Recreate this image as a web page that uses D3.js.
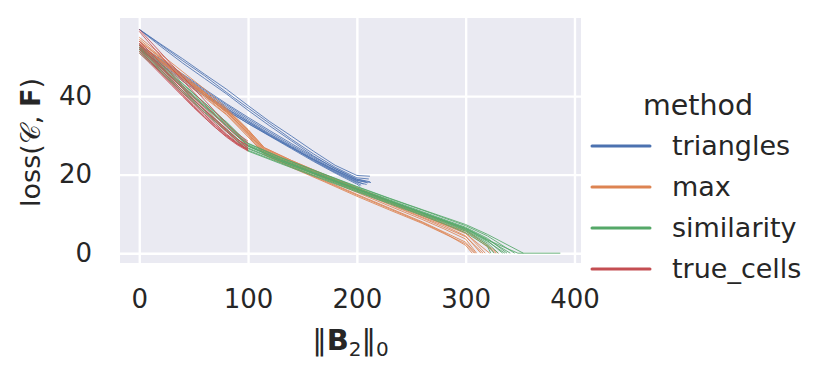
<!DOCTYPE html>
<html><head><meta charset="utf-8">
<script src="https://cdn.jsdelivr.net/npm/d3@7"></script>
<style>body{margin:0;background:#fff}svg{display:block}text{font-family:"DejaVu Sans",sans-serif;fill:#262626}</style>
</head><body><svg id="c" width="829" height="377"></svg>
<script>
// ---- data ----
const methods = ["triangles", "max", "similarity", "true_cells"];
const colors = ["#4c72b0", "#dd8452", "#55a868", "#c44e52"];
const xTicks = [0, 100, 200, 300, 400];
const yTicks = [0, 20, 40];

// triangles: y at grid x, plus last point
const triX = [0, 20, 40, 60, 80, 100, 120, 140, 160, 180, 200];
const triRuns = [
  [57.0, 53.2, 49.5, 45.6, 41.8, 37.6, 33.5, 29.8, 26.0, 22.4, 19.8],
  [57.0, 53.0, 49.0, 45.2, 41.0, 37.0, 33.0, 29.0, 25.3, 21.9, 19.2],
  [57.0, 52.6, 48.4, 44.5, 40.6, 36.4, 32.4, 28.6, 24.8, 21.5, 18.8],
  [53.0, 49.2, 45.3, 41.5, 37.8, 34.2, 30.8, 27.5, 24.3, 21.2, 18.6],
  [53.0, 49.0, 45.0, 41.2, 37.4, 33.8, 30.4, 27.2, 24.0, 21.0, 18.3],
  [53.0, 48.8, 44.7, 40.9, 37.0, 33.5, 30.2, 27.0, 23.6, 20.6, 17.9],
  [53.0, 49.4, 45.6, 41.8, 38.1, 34.6, 31.2, 27.9, 24.6, 21.6, 18.9],
  [53.0, 48.6, 44.4, 40.5, 36.6, 33.0, 29.8, 26.6, 23.4, 20.4, 17.6],
  [52.0, 48.2, 44.2, 40.4, 36.8, 33.4, 30.0, 26.8, 23.8, 20.8, 18.1],
  [52.0, 48.0, 43.8, 40.0, 36.3, 33.1, 29.9, 26.9, 23.9, 21.1, 18.5]
];
const triEndX = [212, 211, 208, 210, 206, 204, 212, 203, 209, 213];
const triEndY = [19.6, 18.9, 18.3, 17.9, 17.6, 17.3, 18.2, 17.0, 17.5, 18.0];

// max
const maxX = [0, 20, 40, 60, 80, 100, 115, 140, 170, 200, 230, 260, 280, 300];
const maxRuns = [
  [55.0, 50.6, 46.2, 41.8, 37.0, 31.5, 26.8, 23.6, 20.0, 16.6, 13.2, 9.8, 7.6, 5.2],
  [54.5, 50.0, 45.5, 41.0, 36.4, 31.0, 26.2, 23.0, 19.4, 16.0, 12.6, 9.2, 7.0, 4.4],
  [54.0, 49.6, 45.0, 40.5, 36.0, 30.6, 25.8, 22.6, 19.0, 15.5, 12.0, 8.6, 6.2, 3.6],
  [53.5, 49.2, 44.8, 40.4, 35.8, 30.2, 25.5, 22.2, 18.6, 15.0, 11.5, 8.0, 5.4, 2.8],
  [53.0, 48.8, 44.4, 40.0, 35.4, 30.0, 25.0, 21.8, 18.2, 14.5, 11.0, 7.6, 5.0, 2.4],
  [53.0, 49.0, 44.9, 40.8, 36.6, 31.2, 26.6, 23.4, 19.8, 16.4, 13.0, 9.6, 7.3, 5.0],
  [52.5, 48.5, 44.3, 40.2, 36.0, 30.8, 26.4, 23.2, 19.7, 16.3, 12.9, 9.5, 7.4, 5.6],
  [52.0, 48.0, 43.8, 39.6, 35.3, 29.6, 25.3, 22.0, 18.4, 14.8, 11.3, 7.8, 5.2, 2.0],
  [53.0, 48.9, 44.7, 40.5, 36.2, 30.4, 26.0, 22.8, 19.2, 15.8, 12.4, 9.0, 6.6, 4.2],
  [54.0, 49.8, 45.4, 41.0, 36.6, 31.4, 26.9, 23.6, 20.1, 16.7, 13.4, 10.1, 8.0, 6.0]
];
const maxEndX = [318, 314, 310, 309, 308, 322, 328, 306, 316, 330];

// similarity
const simX = [0, 20, 40, 60, 80, 100, 130, 160, 200, 230, 260, 280, 300, 320];
const simRuns = [
  [52.5, 47.6, 42.6, 37.8, 33.0, 27.6, 24.0, 20.8, 16.6, 13.6, 10.6, 8.6, 6.6, 3.8],
  [52.0, 47.0, 42.0, 37.2, 32.4, 27.2, 23.7, 20.5, 16.3, 13.3, 10.3, 8.3, 6.2, 3.2],
  [52.0, 46.6, 41.4, 36.4, 31.6, 26.6, 23.3, 20.2, 16.0, 13.0, 10.0, 8.0, 5.8, 2.6],
  [51.5, 46.2, 41.0, 36.0, 31.2, 26.2, 23.0, 19.9, 15.8, 12.8, 9.8, 7.8, 5.6, 2.2],
  [51.0, 46.0, 40.8, 35.8, 31.0, 26.0, 22.8, 19.7, 15.6, 12.6, 9.6, 7.5, 5.2, 1.8],
  [52.5, 47.8, 43.0, 38.2, 33.4, 27.9, 24.3, 21.1, 16.9, 13.9, 11.0, 9.0, 7.0, 4.4],
  [53.0, 48.2, 43.2, 38.3, 33.4, 28.0, 24.4, 21.2, 17.0, 14.0, 11.1, 9.2, 7.3, 4.8],
  [52.0, 47.2, 42.2, 37.4, 32.6, 27.4, 23.8, 20.6, 16.4, 13.4, 10.4, 8.4, 6.4, 3.5],
  [51.5, 46.5, 41.4, 36.5, 31.7, 26.8, 23.4, 20.3, 16.2, 13.2, 10.2, 8.2, 6.0, 3.0],
  [52.5, 47.4, 42.4, 37.5, 32.7, 27.3, 23.6, 20.4, 16.3, 13.3, 10.3, 8.3, 6.3, 3.4]
];
const simEndX = [338, 334, 330, 326, 323, 345, 353, 341, 336, 348];
const simFlatX = [338, 334, 330, 326, 323, 345, 353, 341, 336, 387];

// true_cells
const trueX = [0, 10, 20, 30, 40, 50, 60, 70, 80, 90, 100];
const trueRuns = [
  [57.0, 54.0, 51.0, 48.0, 45.0, 42.0, 39.0, 36.0, 33.0, 30.5, 28.5],
  [56.5, 53.3, 50.2, 47.0, 44.0, 41.0, 38.0, 35.0, 32.2, 29.8, 28.0],
  [54.0, 51.2, 48.3, 45.5, 42.6, 39.8, 37.0, 34.2, 31.6, 29.0, 27.2],
  [53.5, 50.6, 47.6, 44.8, 42.0, 39.1, 36.4, 33.6, 31.0, 28.6, 26.8],
  [53.0, 50.0, 47.1, 44.2, 41.3, 38.5, 35.7, 33.0, 30.4, 28.2, 26.5],
  [53.0, 50.3, 47.5, 44.6, 41.9, 39.2, 36.5, 33.9, 31.3, 29.0, 27.4],
  [52.5, 49.6, 46.6, 43.7, 40.8, 38.0, 35.3, 32.6, 30.2, 27.9, 26.2],
  [52.0, 49.0, 46.0, 43.2, 40.4, 37.6, 34.9, 32.4, 30.0, 28.0, 26.4],
  [51.5, 48.7, 45.8, 43.0, 40.2, 37.3, 34.6, 32.0, 29.6, 27.6, 26.0],
  [51.0, 48.3, 45.5, 42.7, 39.9, 37.1, 34.5, 32.0, 29.8, 27.8, 26.3]
];

// ---- build series ----
const series = [];
triRuns.forEach((r, k) => series.push({m: 0, pts: triX.map((x, i) => [x, r[i]]).concat([[triEndX[k], triEndY[k]]])}));
maxRuns.forEach((r, k) => series.push({m: 1, pts: maxX.map((x, i) => [x, r[i]]).concat([[maxEndX[k], 0]])}));
simRuns.forEach((r, k) => series.push({m: 2, pts: simX.map((x, i) => [x, r[i]]).concat([[simEndX[k], 0], [simFlatX[k], 0]])}));
trueRuns.forEach((r, k) => series.push({m: 3, pts: trueX.map((x, i) => [x, r[i]])}));

// ---- layout ----
const svg = d3.select("#c");
const L = 120, R = 581, T = 18, B = 263;
const x = d3.scaleLinear().domain([-17.7, 406]).range([L, R]);
const y = d3.scaleLinear().domain([-2.5, 59.9]).range([B, T]);

svg.append("rect").attr("x", L).attr("y", T).attr("width", R - L).attr("height", B - T).attr("fill", "#eaeaf2");

const gx = svg.append("g").attr("transform", `translate(0,${B})`)
  .call(d3.axisBottom(x).tickValues(xTicks).tickSize(-(B - T)).tickPadding(27));
const gy = svg.append("g").attr("transform", `translate(${L},0)`)
  .call(d3.axisLeft(y).tickValues(yTicks).tickSize(-(R - L)).tickPadding(28));
[gx, gy].forEach(g => {
  g.select(".domain").remove();
  g.selectAll(".tick line").attr("stroke", "#fff").attr("stroke-width", 2.4);
  g.selectAll(".tick text").attr("fill", "#262626").style("font-size", "26px").style("font-family", "DejaVu Sans");
});

const line = d3.line().x(d => x(d[0])).y(d => y(d[1]));
svg.append("clipPath").attr("id", "pc").append("rect")
  .attr("x", L).attr("y", T).attr("width", R - L).attr("height", B - T);
svg.append("g").attr("clip-path", "url(#pc)").selectAll("path").data(series).join("path")
  .attr("d", d => line(d.pts)).attr("fill", "none")
  .attr("stroke", d => colors[d.m]).attr("stroke-width", 1.0).attr("stroke-opacity", 0.85);

// axis labels
const yl = svg.append("text").attr("transform", `translate(40,${(T + B) / 2 + 2}) rotate(-90)`)
  .attr("text-anchor", "middle").style("font-size", "27px");
yl.append("tspan").text("loss(");
yl.append("tspan").text("𝒞");
yl.append("tspan").text(", ");
yl.append("tspan").attr("font-weight", "bold").text("F");
yl.append("tspan").text(")");

const xl = svg.append("text").attr("x", (L + R) / 2).attr("y", 350)
  .attr("text-anchor", "middle").style("font-size", "29px");
xl.append("tspan").text("‖");
xl.append("tspan").attr("font-weight", "bold").text("B");
xl.append("tspan").attr("dy", 6).style("font-size", "20px").text("2");
xl.append("tspan").attr("dy", -6).text("‖");
xl.append("tspan").attr("dy", 6).style("font-size", "20px").text("0");

// legend
svg.append("text").attr("x", 698).attr("y", 115).attr("text-anchor", "middle").style("font-size", "28.5px").text("method");
const lg = svg.append("g").selectAll("g").data(methods).join("g")
  .attr("transform", (d, i) => `translate(0,${146 + i * 41})`);
lg.append("line").attr("x1", 592).attr("x2", 650).attr("stroke", (d, i) => colors[i]).attr("stroke-width", 3).attr("stroke-linecap", "round");
lg.append("text").attr("x", 672).attr("y", 9).style("font-size", "27px").text(d => d);
</script></body></html>
